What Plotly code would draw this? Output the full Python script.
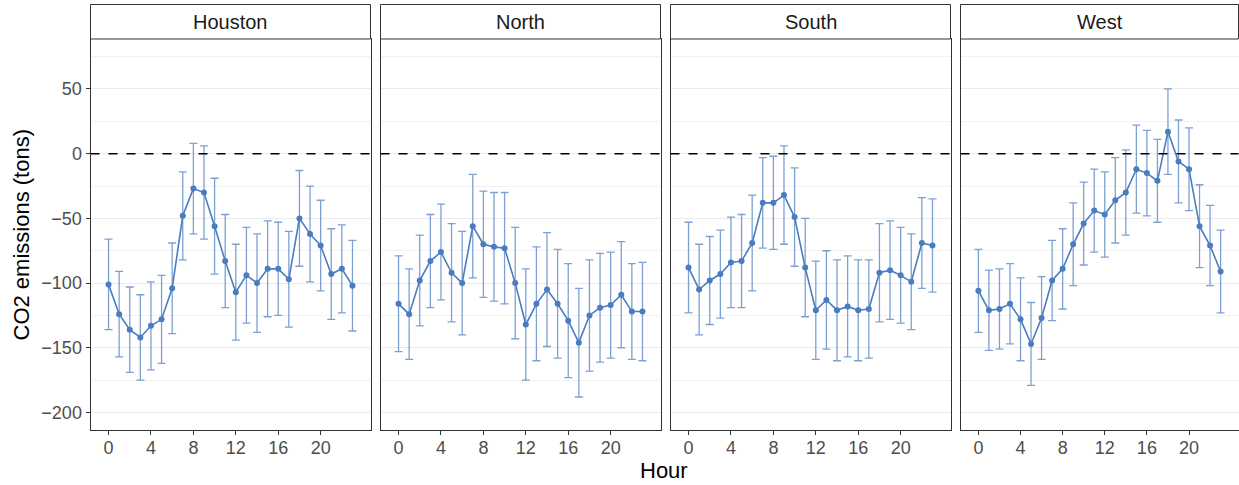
import plotly.graph_objects as go

# Hourly mean CO2 emission change (tons) with symmetric error half-widths, per region
hours = list(range(24))
regions = ["Houston", "North", "South", "West"]

houston_mean = [-101, -124, -136, -142, -133, -128, -104, -48, -27, -30, -56, -83,
                -107, -94, -100, -89, -89, -97, -50, -62, -71, -93, -89, -102]
houston_err = [35, 33, 33, 33, 34, 34, 35, 34, 35, 36, 37, 36,
               37, 37, 38, 37, 36, 37, 37, 37, 35, 35, 34, 35]

north_mean = [-116, -124, -98, -83, -76, -92, -100, -56, -70, -72, -73, -100,
              -132, -116, -105, -116, -129, -146, -125, -119, -117, -109, -122, -122]
north_err = [37, 35, 35, 36, 37, 38, 40, 40, 41, 42, 43, 43,
             43, 44, 44, 42, 44, 42, 43, 42, 41, 41, 37, 38]

south_mean = [-88, -105, -98, -93, -84, -83, -69, -38, -38, -32, -49, -88,
              -121, -113, -121, -118, -121, -120, -92, -90, -94, -99, -69, -71]
south_err = [35, 35, 34, 34, 35, 36, 37, 35, 36, 38, 38, 38,
             38, 38, 39, 39, 39, 38, 38, 38, 37, 37, 35, 36]

west_mean = [-106, -121, -120, -116, -128, -147, -127, -98, -89, -70, -54, -44,
             -47, -36, -30, -12, -15, -21, 17, -6, -12, -56, -71, -91]
west_err = [32, 31, 31, 31, 32, 32, 32, 31, 31, 32, 32, 32,
            33, 33, 33, 34, 33, 32, 33, 32, 32, 32, 31, 32]

x_ticks = [0, 4, 8, 12, 16, 20]
y_ticks = [50, 0, -50, -100, -150, -200]
y_tick_text = ["50", "0", "\u221250", "\u2212100", "\u2212150", "\u2212200"]

means = [houston_mean, north_mean, south_mean, west_mean]
errs = [houston_err, north_err, south_err, west_err]

W, H = 1239, 485
panel_px = [(90.5, 370.5), (380.5, 660.5), (670.5, 950.5), (960.5, 1238.5)]
plot_top, plot_bottom = 39, 430
strip_top = 4.5

LINE = "#4A7CC0"
ERR = "rgba(74,124,192,0.72)"
GRID = "#EBEBEB"
FONT = "Liberation Sans, Arial, Helvetica, sans-serif"
TICK_SIZE = 18

fig = go.Figure()
layout_axes = {}
shapes = []
annotations = []

y_dom = [(H - plot_bottom) / H, (H - plot_top) / H]
x_range = [-1.7, 24.7]
y_range = [-213.5, 88.6]

for i, (name, m, e) in enumerate(zip(regions, means, errs)):
    n = "" if i == 0 else str(i + 1)
    xa, ya = "x" + n, "y" + n
    fig.add_trace(go.Scatter(
        x=hours, y=m, xaxis=xa, yaxis=ya, mode="lines+markers",
        line=dict(color=LINE, width=1.6),
        marker=dict(color=LINE, size=6),
        error_y=dict(type="data", array=e, visible=True, color=ERR,
                     thickness=1.3, width=4),
        showlegend=False, hoverinfo="x+y",
    ))
    x0, x1 = panel_px[i]
    layout_axes["xaxis" + n] = dict(
        domain=[x0 / W, x1 / W], range=x_range, anchor=ya,
        tickmode="array", tickvals=x_ticks, ticktext=[str(t) for t in x_ticks],
        ticks="outside", ticklen=4, tickwidth=1, tickcolor="#333333",
        tickfont=dict(size=TICK_SIZE, color="#4D4D4D", family=FONT),
        ticklabelstandoff=-3,
        showgrid=False, zeroline=False,
        showline=True, linecolor="#333333", linewidth=1, mirror=True,
    )
    layout_axes["yaxis" + n] = dict(
        domain=y_dom, range=y_range, anchor=xa,
        tickmode="array", tickvals=y_ticks, ticktext=y_tick_text,
        showticklabels=(i == 0),
        ticks="outside" if i == 0 else "", ticklen=4, tickwidth=1, tickcolor="#333333",
        tickfont=dict(size=TICK_SIZE, color="#4D4D4D", family=FONT),
        showgrid=True, gridcolor=GRID, gridwidth=1.2,
        minor=dict(tickvals=[75, 25, -25, -75, -125, -175], showgrid=True,
                   gridcolor="#F2F2F2", gridwidth=0.8, ticks=""),
        zeroline=False,
        showline=True, linecolor="#333333", linewidth=1, mirror=True,
    )
    # reference line at zero
    shapes.append(dict(type="line", xref=xa + " domain", yref=ya,
                       x0=0, x1=1, y0=0, y1=0,
                       line=dict(color="black", width=1.5, dash="dash")))
    # facet strip
    shapes.append(dict(type="rect", xref="paper", yref="paper",
                       x0=x0 / W, x1=x1 / W,
                       y0=(H - plot_top) / H, y1=(H - strip_top) / H,
                       line=dict(color="#333333", width=1), fillcolor="white",
                       layer="above"))
    annotations.append(dict(text=name, xref="paper", yref="paper",
                            x=(x0 + x1) / 2 / W, y=(H - (strip_top + plot_top) / 2) / H,
                            xanchor="center", yanchor="middle", showarrow=False,
                            font=dict(size=20, color="#1A1A1A", family=FONT)))

annotations.append(dict(text="Hour", xref="paper", yref="paper",
                        x=664 / W, y=(H - 470) / H, xanchor="center", yanchor="middle",
                        showarrow=False, font=dict(size=22, color="black", family=FONT)))
annotations.append(dict(text="CO2 emissions (tons)", xref="paper", yref="paper",
                        x=21 / W, y=(H - (plot_top + plot_bottom) / 2) / H,
                        xanchor="center", yanchor="middle", textangle=-90,
                        showarrow=False, font=dict(size=22, color="black", family=FONT)))

fig.update_layout(
    width=W, height=H,
    margin=dict(l=0, r=0, t=0, b=0),
    paper_bgcolor="white", plot_bgcolor="white",
    shapes=shapes, annotations=annotations,
    font=dict(family=FONT),
    **layout_axes,
)

fig.write_html("out.html")
